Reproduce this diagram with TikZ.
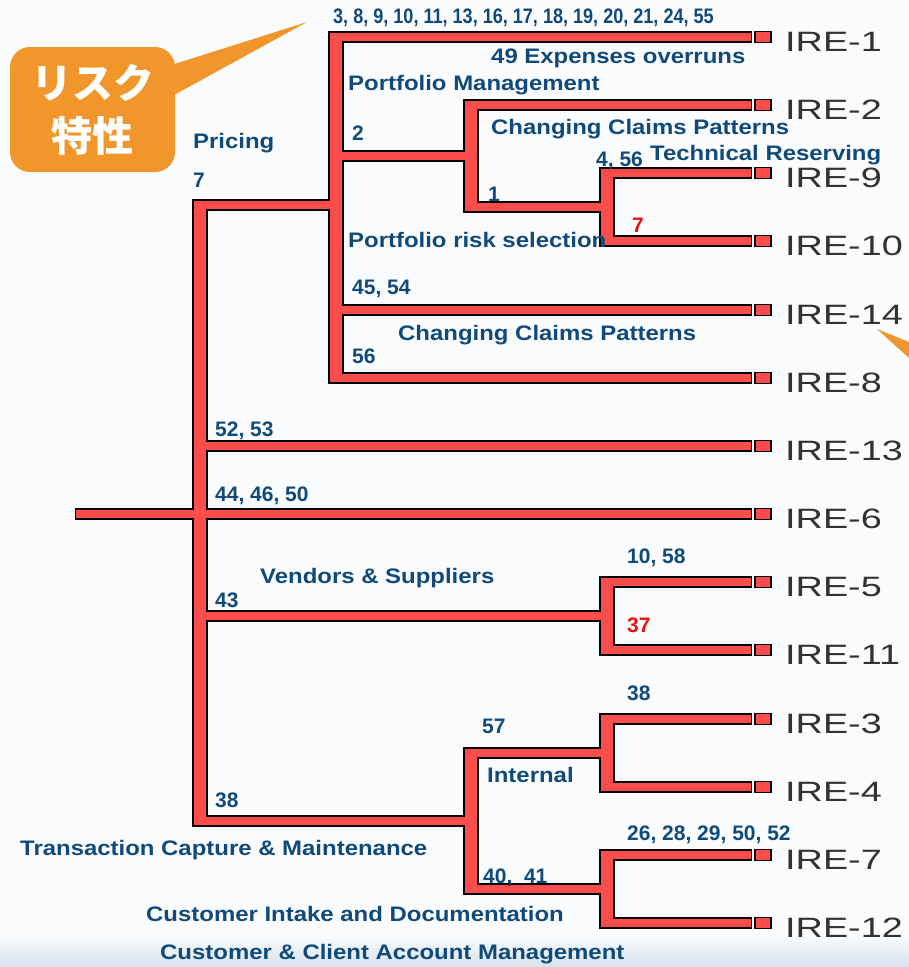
\documentclass[tikz,border=0pt]{standalone}
\usepackage{fontspec}
\setmainfont{Liberation Sans}
\newfontfamily\labfont[FakeStretch=1.14]{Liberation Sans}
\newfontfamily\condfont[FakeStretch=0.86]{Liberation Sans}
\newfontfamily\cjk{Noto Sans CJK JP}
\usetikzlibrary{positioning}
\definecolor{barred}{RGB}{252,76,76}
\definecolor{labblue}{RGB}{16,74,122}
\definecolor{numred}{RGB}{235,16,16}
\definecolor{ireink}{RGB}{50,50,50}
\definecolor{callorange}{RGB}{240,150,42}
\definecolor{bgwhite}{RGB}{250,251,253}
\definecolor{bgblue}{RGB}{214,227,238}

% every branch of the dendrogram, drawn twice (black rim, then red core)
\newcommand\branches[1]{%
  \draw[#1] (stub) -- (nroot);
  \draw[#1] (ntop) -| (nroot) |- (nlow);
  \draw[#1] (ire13.west) -- (ire13.west -| nroot);
  \draw[#1] (ire6.west) -- (ire6.west -| nroot);
  \draw[#1] (nvend) -- (nvend -| nroot);
  % pricing cluster
  \draw[#1] (ire1.west) -| (ntop) |- (ire8.west);
  \draw[#1] (ire14.west) -- (ire14.west -| ntop);
  \draw[#1] (nclaim) -- (nclaim -| ntop);
  \draw[#1] (ire2.west) -| (nclaim) |- (nres);
  \draw[#1] (ire9.west) -| (nres) |- (ire10.west);
  % vendors / transaction clusters
  \draw[#1] (ire5.west) -| (nvend) |- (ire11.west);
  \draw[#1] (nint) -| (nlow) |- (ncust);
  \draw[#1] (ire3.west) -| (nint) |- (ire4.west);
  \draw[#1] (ire7.west) -| (ncust) |- (ire12.west);
}

\tikzset{
  rim/.style={line width=11.5pt, draw=black, line join=miter},
  core/.style={line width=8.5pt, draw=barred, line join=miter,
               shorten <=1.1pt, shorten >=1.1pt},
  leafbox/.style={draw=black, line width=0.9pt, fill=barred, inner sep=0pt,
                  minimum width=11.85pt, minimum height=11pt,
                  outer xsep=2.2pt, outer ysep=0pt},
  irelab/.style={font=\fontsize{28}{28}\selectfont, text=ireink, inner sep=0pt},
  grp/.style={font=\labfont\bfseries\fontsize{21}{24}\selectfont, text=labblue,
              inner sep=0pt, anchor=base west},
  num/.style={font=\bfseries\fontsize{21}{24}\selectfont, text=labblue,
              inner sep=0pt, anchor=base west},
  numlist/.style={num, font=\condfont\bfseries\fontsize{21}{24}\selectfont},
  rednum/.style={num, text=numred},
  riskbox/.style={fill=callorange, rounded corners=20pt, minimum width=165pt,
                  minimum height=125pt, text=white, align=center,
                  font=\cjk\bfseries\fontsize{41}{53}\selectfont}
}

\begin{document}
\begin{tikzpicture}[x=1pt, y=-1pt]
\useasboundingbox (0,0) rectangle (909,967);
\fill[bgwhite] (0,0) rectangle (909,967);
\shade[top color=bgwhite, bottom color=bgblue] (0,935) rectangle (909,967);

% dendrogram, stretched sideways like the source chart
\begin{scope}[transform canvas={xscale=1.35}, x=0.7407pt]
  \coordinate (stub)   at (75,514);
  \coordinate (nroot)  at (200,514);
  \coordinate (ntop)   at (336,205);
  \coordinate (nclaim) at (471,156);
  \coordinate (nres)   at (607,207);
  \coordinate (nvend)  at (607,616);
  \coordinate (nlow)   at (471,821);
  \coordinate (nint)   at (607,753);
  \coordinate (ncust)  at (607,889);

  \foreach \n/\y in {1/37, 2/105, 9/173, 10/241, 14/310, 8/378, 13/446,
                     6/514, 5/582, 11/650, 3/719, 4/787, 7/855, 12/923}{
    \node[leafbox] (ire\n) at (763,\y) {};
    \node[irelab, right=8.15pt of ire\n, yshift=-5pt] (lab\n) {IRE-\n};
  }

  \branches{rim}
  \branches{core}
\end{scope}

% callout
\fill[callorange] (165,67) -- (307,22) -- (165,100) -- cycle;
\node[riskbox] (risk) at (92.5,109.5) {リスク\\特性};
\fill[callorange] (877,329) -- (909,342) -- (909,358) -- cycle;

% group names
\node[grp] (expenses)  at (491,63.5)  {49 Expenses overruns};
\node[grp] (portmgmt)  at (348,90.5)  {Portfolio Management};
\node[grp] (claims1)   at (491,134.5) {Changing Claims Patterns};
\node[grp] (reserving) at (650,160.5) {Technical Reserving};
\node[grp] (pricing)   at (193,148.5) {Pricing};
\node[grp] (riskselect) at (348,247.5) {Portfolio risk selection};
\node[grp] (claims2)   at (398,340.5) {Changing Claims Patterns};
\node[grp] (vendors)   at (260,583.5) {Vendors \& Suppliers};
\node[grp] (internal)  at (487,782.5) {Internal};
\node[grp] (transact)  at (20,855.5)  {Transaction Capture \& Maintenance};
\node[grp] (intake)    at (146,921.5) {Customer Intake and Documentation};
\node[grp] (account)   at (160,959.5) {Customer \& Client Account Management};

% numbers on the branches
\node[numlist] (n1list) at (333,23.5)
  {3, 8, 9, 10, 11, 13, 16, 17, 18, 19, 20, 21, 24, 55};
\node[num] (n2)    at (352,140.5) {2};
\node[num] (n456)  at (596,166.5) {4, 56};
\node[num] (n1)    at (488,201.5) {1};
\node[rednum] (n7r) at (632,232.5) {7};
\node[num] (n7)    at (193,187)   {7};
\node[num] (n4554) at (352,294.5) {45, 54};
\node[num] (n56)   at (352,363.5) {56};
\node[num] (n5253) at (215,436.5) {52, 53};
\node[num] (n4450) at (215,501)   {44, 46, 50};
\node[num] (n1058) at (627,563.5) {10, 58};
\node[num] (n43)   at (215,607)   {43};
\node[rednum] (n37) at (627,632.5) {37};
\node[num] (n38a)  at (627,700.5) {38};
\node[num] (n57)   at (482,733)   {57};
\node[num] (n38b)  at (215,807.5) {38};
\node[num] (n2652) at (627,840.5) {26, 28, 29, 50, 52};
\node[num] (n4041) at (483,883.5) {40,~ 41};

\end{tikzpicture}
\end{document}
